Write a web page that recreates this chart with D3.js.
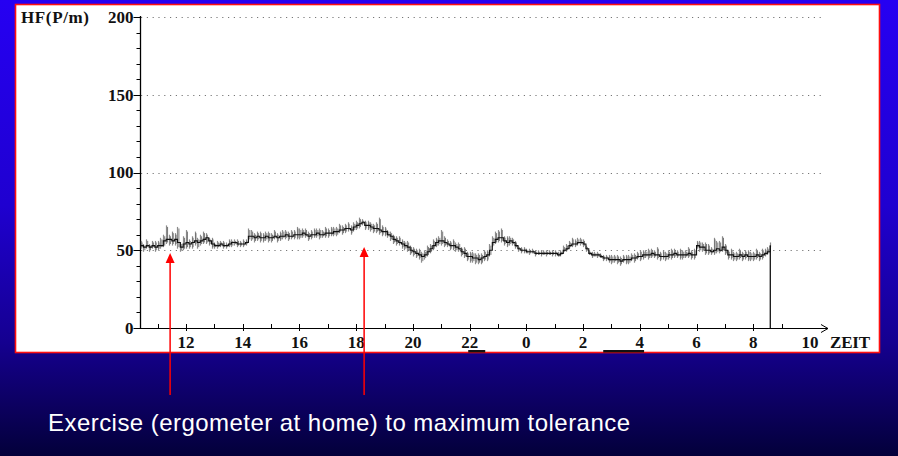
<!DOCTYPE html>
<html><head><meta charset="utf-8">
<script src="https://cdn.jsdelivr.net/npm/d3@7"></script>
<style>html,body{margin:0;padding:0;overflow:hidden;background:#000}</style>
</head><body>
<svg id="c" width="898" height="456"></svg>
<script>
// ---- data ----
const startHour = 10.4;       // first sample (continuous hours; 24 = midnight)
const sampleStep = 0.1;       // hours between samples
const endHour = 32.6;         // recording stops (drop to 0)
// heart rate (beats/min), one value every 0.1 h
const hrMean = [
  53,52,53,52,53,52,
  53,53,56,57,57,56,57,55,52,54,
  55,54,55,56,55,56,57,58,56,54,
  53,53,54,53,53,54,55,55,54,54,
  54,55,59,59,58,59,58,58,59,58,
  58,59,58,59,59,60,59,59,60,60,
  60,61,60,59,60,60,61,60,60,61,
  61,61,62,62,63,63,64,64,63,65,
  66,67,68,66,66,65,64,64,63,62,
  62,60,59,57,56,55,54,53,52,50,
  49,48,47,46,47,49,51,53,55,56,
  56,55,54,53,53,52,51,49,48,46,
  46,45,45,44,45,46,47,50,55,57,
  58,58,56,55,56,55,53,51,50,50,
  49,49,49,48,48,48,48,48,48,48,
  48,47,48,50,51,53,54,54,55,55,
  54,51,48,47,47,47,46,45,45,44,
  44,44,44,43,44,44,44,45,45,46,
  46,47,47,47,48,47,47,46,46,46,
  47,47,48,47,47,47,47,48,47,47,
  53,52,52,50,50,49,50,51,50,52,
  50,47,47,46,46,47,46,47,46,46,
  46,47,46,47,48,49,53
];
// upward spread of the beat-to-beat spikes (bpm above mean)
const spreadUp = [
  3,2,4,2,3,4,
  3,5,4,9,3,6,4,10,3,5,
  8,3,4,6,3,4,5,3,2,4,
  2,3,2,3,2,3,2,2,3,2,
  3,2,5,4,3,3,4,3,3,4,
  3,4,3,3,4,3,3,4,3,5,
  4,3,4,3,3,4,3,4,3,4,
  3,4,3,3,4,3,3,4,3,3,
  3,4,2,3,3,3,3,4,8,4,
  3,3,3,3,3,4,3,3,4,3,
  3,3,4,3,3,4,3,4,3,3,
  7,4,3,3,4,3,4,3,4,3,
  3,4,3,4,3,4,3,4,4,5,
  5,6,3,4,3,3,3,2,2,2,
  2,2,2,2,2,2,2,2,2,2,
  2,2,2,3,3,3,4,3,3,3,
  3,2,2,2,2,2,2,2,2,3,
  3,3,3,3,3,3,3,3,3,3,
  4,3,3,4,3,3,5,3,4,3,
  3,4,3,3,4,3,3,4,3,4,
  3,4,3,5,4,3,8,5,6,7,
  4,3,4,3,3,4,3,3,4,3,
  3,4,3,4,3,3,2
];
// downward spread (bpm below mean)
const spreadDown = [
  2,3,2,3,2,3,
  3,2,4,3,4,3,4,4,3,4,
  4,3,4,3,4,3,3,4,3,3,
  2,2,2,2,2,2,3,2,2,2,
  2,2,3,3,3,3,3,3,3,3,
  3,2,3,3,2,3,3,2,3,3,
  3,3,2,3,3,2,3,3,2,3,
  3,2,3,3,2,3,3,2,3,3,
  3,3,2,3,3,3,3,3,3,3,
  3,2,3,3,3,2,3,3,3,3,
  3,3,3,4,3,3,3,3,3,3,
  3,3,2,3,3,3,2,3,3,3,
  4,3,4,3,4,3,4,4,3,3,
  3,3,3,3,3,2,2,2,2,2,
  1,2,1,2,1,2,1,2,1,2,
  2,1,2,2,2,2,2,2,2,2,
  2,2,1,2,1,2,1,2,2,2,
  3,2,3,3,2,3,3,2,3,2,
  3,3,2,3,3,2,3,3,2,3,
  3,3,3,2,3,3,2,3,3,3,
  2,3,3,3,3,2,3,3,2,3,
  3,3,3,3,3,3,3,3,3,3,
  3,3,3,3,2,2,1
];
const yTicks = [0, 50, 100, 150, 200];
const xTickHours = [12, 14, 16, 18, 20, 22, 24, 26, 28, 30, 32, 34];
const xTickLabels = ["12","14","16","18","20","22","0","2","4","6","8","10"];
const exerciseHours = [11.44, 18.28];            // red arrows
const sleepBars = [[21.95, 22.55], [26.71, 28.15]]; // black bars below axis
const yTitle = "HF(P/m)";
const xTitle = "ZEIT";
const caption = "Exercise (ergometer at home) to maximum tolerance";

// ---- drawing ----
const svg = d3.select("#c");
const defs = svg.append("defs");
const g = defs.append("linearGradient").attr("id","bg").attr("x1",0).attr("y1",0).attr("x2",0).attr("y2",1);
[[0,"#2600f2"],[0.45,"#1f00d0"],[0.75,"#150090"],[0.9,"#0b005c"],[1,"#03003a"]]
  .forEach(([o,c]) => g.append("stop").attr("offset",o).attr("stop-color",c));
svg.append("rect").attr("width",898).attr("height",456).attr("fill","url(#bg)");

svg.append("rect").attr("x",15.5).attr("y",4.5).attr("width",864).attr("height",348)
  .attr("fill","#fff").attr("stroke","#ff1010").attr("stroke-width",1.6);

const x = d3.scaleLinear().domain([12, 34]).range([186, 810]);
const y = d3.scaleLinear().domain([0, 200]).range([328, 17]);
const serif = "'Liberation Serif','DejaVu Serif',serif";

// gridlines
svg.append("g").selectAll("line").data(yTicks.filter(d => d > 0)).join("line")
  .attr("x1", 141).attr("x2", 822).attr("y1", d => Math.round(y(d)) + 0.5).attr("y2", d => Math.round(y(d)) + 0.5)
  .attr("stroke", "#777").attr("stroke-width", 1).attr("stroke-dasharray", "1.2,4.6");

// y axis
const yAxis = svg.append("g").attr("transform", "translate(140.5,0)");
yAxis.append("line").attr("y1", y(200) - 1).attr("y2", y(0)).attr("stroke", "#000").attr("stroke-width", 1.3);
yAxis.selectAll("line.minor").data(d3.range(0, 201, 10)).join("line").attr("class","minor")
  .attr("x1", d => d % 50 === 0 ? -7 : -4).attr("x2", 0)
  .attr("y1", d => Math.round(y(d)) + 0.5).attr("y2", d => Math.round(y(d)) + 0.5)
  .attr("stroke", "#000").attr("stroke-width", 1);
yAxis.selectAll("text").data(yTicks).join("text")
  .attr("x", -7).attr("y", d => y(d)).attr("dy", "0.35em").attr("text-anchor", "end")
  .attr("font-family", serif).attr("font-size", 17).attr("font-weight", "bold").attr("fill", "#111")
  .text(d => d);
svg.append("text").attr("x", 21).attr("y", 23).attr("font-family", serif).attr("font-size", 17)
  .attr("font-weight", "bold").attr("fill", "#111").attr("textLength", 68).text(yTitle);

// x axis
const xa = svg.append("g");
xa.append("line").attr("x1", 140).attr("x2", 828).attr("y1", 328.5).attr("y2", 328.5)
  .attr("stroke", "#000").attr("stroke-width", 1.2);
xa.append("path").attr("d", "M821,324.5 L828,328.5 L821,332.5").attr("fill", "none").attr("stroke", "#000").attr("stroke-width", 1);
xa.selectAll("line.t").data(d3.range(11, 34)).join("line").attr("class", "t")
  .attr("x1", d => Math.round(x(d)) + 0.5).attr("x2", d => Math.round(x(d)) + 0.5)
  .attr("y1", 324).attr("y2", d => d % 2 === 0 ? 331 : 328)
  .attr("stroke", "#000").attr("stroke-width", 1);
xa.selectAll("text").data(xTickHours).join("text")
  .attr("x", d => x(d)).attr("y", 348).attr("text-anchor", "middle")
  .attr("font-family", serif).attr("font-size", 17).attr("font-weight", "bold").attr("fill", "#111")
  .text((d, i) => xTickLabels[i]);
svg.append("text").attr("x", 830).attr("y", 348).attr("font-family", serif).attr("font-size", 17)
  .attr("font-weight", "bold").attr("fill", "#111").attr("textLength", 40).text(xTitle);

// sleep bars
svg.append("g").selectAll("rect").data(sleepBars).join("rect")
  .attr("x", d => x(d[0])).attr("width", d => x(d[1]) - x(d[0])).attr("y", 350).attr("height", 2.5)
  .attr("fill", "#111");

// data
const data = hrMean.map((v, i) => ({ t: startHour + i * sampleStep, v, up: spreadUp[i], dn: spreadDown[i] }));
svg.append("g").selectAll("line").data(data).join("line")
  .attr("x1", d => Math.round(x(d.t)) + 0.5).attr("x2", d => Math.round(x(d.t)) + 0.5)
  .attr("y1", d => y(d.v + d.up)).attr("y2", d => y(d.v - d.dn))
  .attr("stroke", "#8c8c8c").attr("stroke-width", 1.2);
svg.append("g").selectAll("line").data(data.slice(0, -1)).join("line")
  .attr("x1", d => x(d.t + sampleStep / 2)).attr("x2", d => x(d.t + sampleStep / 2))
  .attr("y1", d => y(d.v + Math.max(1, d.up - 1))).attr("y2", d => y(d.v - Math.max(1, d.dn - 1)))
  .attr("stroke", "#555").attr("stroke-width", 0.8);
const line = d3.line().x(d => x(d.t)).y(d => y(d.v)).curve(d3.curveStepAfter);
svg.append("path").datum(data).attr("d", line).attr("fill", "none").attr("stroke", "#111").attr("stroke-width", 1.1);
svg.append("line").attr("x1", x(endHour)).attr("x2", x(endHour))
  .attr("y1", y(hrMean[hrMean.length - 1])).attr("y2", y(0))
  .attr("stroke", "#111").attr("stroke-width", 1.3);

// red arrows
const ar = svg.append("g");
exerciseHours.forEach((h, i) => {
  const px = x(h);
  const tip = i === 0 ? 253 : 247;
  ar.append("line").attr("x1", px).attr("x2", px).attr("y1", tip + 8).attr("y2", 395)
    .attr("stroke", "#ff0000").attr("stroke-width", 1.5);
  ar.append("path").attr("d", `M${px},${tip} L${px - 4.5},${tip + 10} L${px + 4.5},${tip + 10} Z`).attr("fill", "#ff0000");
});

// caption
svg.append("text").attr("x", 48).attr("y", 431).attr("font-family", "'Liberation Sans',Arial,sans-serif")
  .attr("font-size", 24).attr("fill", "#fff").attr("textLength", 582).text(caption);
</script>
</body></html>
